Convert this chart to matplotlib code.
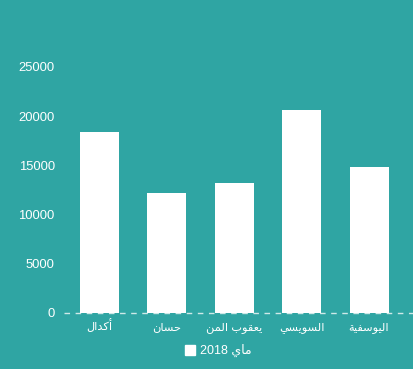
import matplotlib
matplotlib.use("Agg")
import matplotlib.pyplot as plt
from matplotlib.patches import Patch

categories = ["أكدال", "حسان", "يعقوب المن", "السويسي", "اليوسفية"]
values = [18400, 12200, 13200, 20600, 14800]
series_name = "ماي"
series_year = "2018"
yticks = [0, 5000, 10000, 15000, 20000, 25000]

# --- minimal Arabic shaping (presentation forms) for matplotlib ---
FORMS = {
    "ا": (0xFE8D, 0xFE8E, None, None),
    "أ": (0xFE83, 0xFE84, None, None),
    "ب": (0xFE8F, 0xFE90, 0xFE91, 0xFE92),
    "ة": (0xFE93, 0xFE94, None, None),
    "ح": (0xFEA1, 0xFEA2, 0xFEA3, 0xFEA4),
    "د": (0xFEA9, 0xFEAA, None, None),
    "ر": (0xFEAD, 0xFEAE, None, None),
    "س": (0xFEB1, 0xFEB2, 0xFEB3, 0xFEB4),
    "ص": (0xFEB9, 0xFEBA, 0xFEBB, 0xFEBC),
    "ع": (0xFEC9, 0xFECA, 0xFECB, 0xFECC),
    "ف": (0xFED1, 0xFED2, 0xFED3, 0xFED4),
    "ق": (0xFED5, 0xFED6, 0xFED7, 0xFED8),
    "ك": (0xFED9, 0xFEDA, 0xFEDB, 0xFEDC),
    "ل": (0xFEDD, 0xFEDE, 0xFEDF, 0xFEE0),
    "م": (0xFEE1, 0xFEE2, 0xFEE3, 0xFEE4),
    "ن": (0xFEE5, 0xFEE6, 0xFEE7, 0xFEE8),
    "ه": (0xFEE9, 0xFEEA, 0xFEEB, 0xFEEC),
    "و": (0xFEED, 0xFEEE, None, None),
    "ى": (0xFEEF, 0xFEF0, None, None),
    "ي": (0xFEF1, 0xFEF2, 0xFEF3, 0xFEF4),
}


def shape(text):
    out = []
    n = len(text)
    for i, ch in enumerate(text):
        if ch not in FORMS:
            out.append(ch)
            continue
        iso, fin, ini, med = FORMS[ch]
        prev = text[i - 1] if i > 0 else None
        nxt = text[i + 1] if i + 1 < n else None
        jp = prev in FORMS and FORMS[prev][2] is not None
        jn = nxt in FORMS and ini is not None
        if jp and jn:
            cp = med
        elif jp:
            cp = fin
        elif jn:
            cp = ini
        else:
            cp = iso
        out.append(chr(cp))
    return "".join(out)[::-1]


BG = "#2fa5a3"
FONT = ["Liberation Sans", "DejaVu Sans"]
plt.rcParams["font.family"] = FONT

fig = plt.figure(figsize=(4.14, 3.69), dpi=100, facecolor=BG)
ax = fig.add_axes([0.159, 0.1518, 0.8138, 0.6667])
ax.set_facecolor(BG)

x = list(range(len(categories)))
ax.bar(x, values, width=0.58, color="white", zorder=3)

ax.set_xlim(-0.5, len(categories) - 0.5)
ax.set_ylim(0, 25000)
ax.set_yticks(yticks)
ax.set_yticklabels([str(v) for v in yticks], color="white", fontsize=9.4)
ax.set_xticks(x)
ax.set_xticklabels([shape(c) for c in categories], color="white",
                   fontsize=8.2, va="baseline")
ax.tick_params(axis="both", length=0)
ax.tick_params(axis="y", pad=8)
ax.tick_params(axis="x", pad=12)
for s in ax.spines.values():
    s.set_visible(False)

ax.plot([-0.005, 1.03], [0, 0], transform=ax.get_yaxis_transform(),
        color="#cfe9e8", lw=1, ls=(0, (4, 4)), clip_on=False, zorder=2)

handle = Patch(facecolor="white", edgecolor="white")
leg = fig.legend([handle], [series_year + " " + shape(series_name)],
                 loc="center", bbox_to_anchor=(0.527, 0.049), frameon=False,
                 handlelength=0.85, handleheight=0.85, handletextpad=0.4,
                 fontsize=9)
for t in leg.get_texts():
    t.set_color("white")

fig.savefig("out.png", dpi=100, facecolor=BG)
